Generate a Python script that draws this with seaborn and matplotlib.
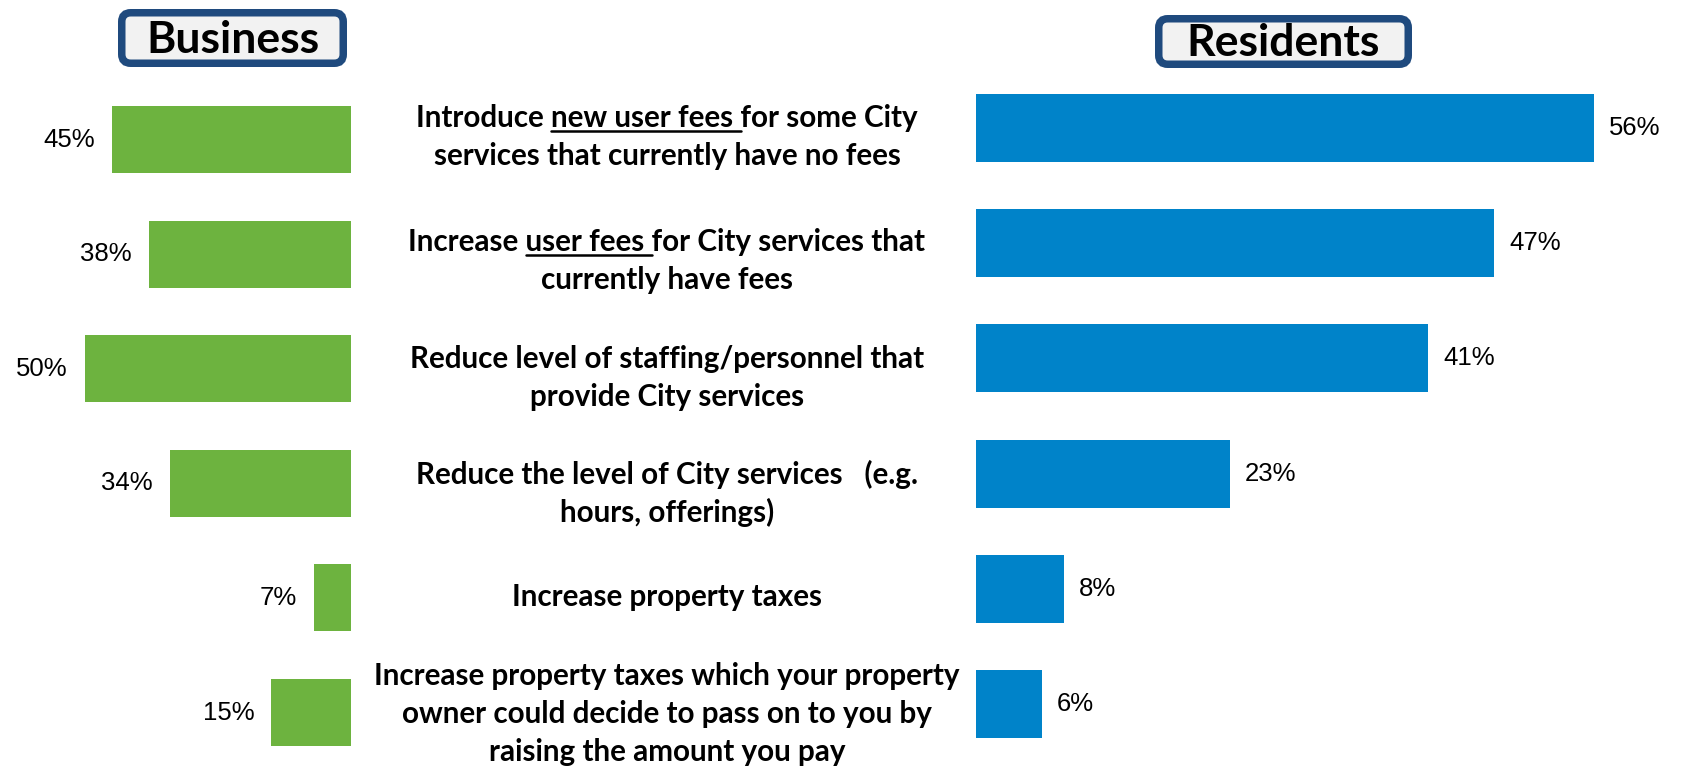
import matplotlib
matplotlib.use("Agg")
import matplotlib.pyplot as plt
from matplotlib.patches import FancyBboxPatch
from matplotlib.lines import Line2D
from matplotlib.transforms import IdentityTransform
import pandas as pd
import seaborn as sns

# ---- data ---------------------------------------------------------------
measures = [
    "Introduce new user fees for some City\nservices that currently have no fees",
    "Increase user fees for City services that\ncurrently have fees",
    "Reduce level of staffing/personnel that\nprovide City services",
    "Reduce the level of City services   (e.g.\nhours, offerings)",
    "Increase property taxes",
    "Increase property taxes which your property\nowner could decide to pass on to you by\nraising the amount you pay",
]
underlined = ["new user fees ", "user fees ", None, None, None, None]
business_pct = [45, 38, 50, 34, 7, 15]
resident_pct = [56, 47, 41, 23, 8, 6]
panel_titles = ["Business", "Residents"]

# ---- styling / layout ---------------------------------------------------
W, H, DPI = 1685, 770, 100
GREEN = "#6DB33F"
BLUE = "#0083C9"
NAVY = "#1F4A7E"
BOX_FACE = "#F2F2F2"
LABEL_FONT = ["Lato", "DejaVu Sans"]
PCT_FONT = ["Liberation Sans", "DejaVu Sans"]
LABEL_SIZE = 21.3
LINE_STEP = 38          # px between lines of a measure label
PCT_SIZE = 18.5
TITLE_SIZE = 32
# vertical centre (px from top) of each text block in the middle column
LABEL_CENTERS = [135, 259, 376, 492, 595, 712]

sns.set_theme(style="white")
plt.rcParams["font.family"] = LABEL_FONT

fig = plt.figure(figsize=(W / DPI, H / DPI), dpi=DPI)
px = IdentityTransform()


def fig_rect(left, top, width, height):
    """Axes rectangle given in pixels measured from the top-left corner."""
    return [left / W, 1 - (top + height) / H, width / W, height / H]


df = pd.DataFrame({"measure": measures,
                   "business": business_pct,
                   "residents": resident_pct})

# ---- business panel (bars grow leftwards) -------------------------------
ax_b = fig.add_axes(fig_rect(0, 82.2, 351, 687.6))
sns.barplot(data=df, x="business", y="measure", orient="h", color=GREEN,
            saturation=1, width=0.585, errorbar=None, linewidth=0, ax=ax_b)
ax_b.set_xlim(351 / 5.32, 0)
ax_b.set_ylim(5.5, -0.5)
ax_b.axis("off")
for i, v in enumerate(business_pct):
    ax_b.annotate(f"{v}%", xy=(v, i), xytext=(-17, 0),
                  textcoords="offset pixels", ha="right", va="center",
                  fontsize=PCT_SIZE, family=PCT_FONT, color="black")

# ---- residents panel ------------------------------------------------------
ax_r = fig.add_axes(fig_rect(976, 70.4, 709, 691.2))
sns.barplot(data=df, x="residents", y="measure", orient="h", color=BLUE,
            saturation=1, width=0.59, errorbar=None, linewidth=0, ax=ax_r)
ax_r.set_xlim(0, 709 / 11.03)
ax_r.set_ylim(5.5, -0.5)
ax_r.axis("off")
for i, v in enumerate(resident_pct):
    ax_r.annotate(f"{v}%", xy=(v, i), xytext=(15, 0),
                  textcoords="offset pixels", ha="left", va="center",
                  fontsize=PCT_SIZE, family=PCT_FONT, color="black")

# ---- measure labels in the middle column --------------------------------
renderer = fig.canvas.get_renderer()
label_kw = dict(fontsize=LABEL_SIZE, fontweight="bold", color="black",
                family=LABEL_FONT, transform=px)
cap_px = 0.72 * LABEL_SIZE * DPI / 72
center_x = 667


def advance_width(s):
    a = fig.text(0, 0, s + "|", **label_kw)
    b = fig.text(0, 0, "|", **label_kw)
    w = (a.get_window_extent(renderer).width
         - b.get_window_extent(renderer).width)
    a.remove()
    b.remove()
    return w


for text, phrase, top_y in zip(measures, underlined, LABEL_CENTERS):
    yc = H - top_y
    lines = text.split("\n")
    n = len(lines)
    for j, line in enumerate(lines):
        base = yc + ((n - 1) / 2 - j) * LINE_STEP - cap_px / 2
        t = fig.text(center_x, base, line, ha="center", va="baseline",
                     **label_kw)
        if phrase and phrase in line:
            x0 = t.get_window_extent(renderer).x0
            start = x0 + advance_width(line[:line.index(phrase)])
            end = start + advance_width(phrase)
            fig.add_artist(Line2D([start, end], [base - 4, base - 4],
                                  color="black", linewidth=1.8,
                                  transform=px))

# ---- panel header boxes ---------------------------------------------------
headers = [
    # (left, top, right, bottom) outer edge in px from top-left
    (118, 9, 347, 67),
    (1155, 15, 1412, 68),
]
border = 7.5
for title, (l, t, r, b) in zip(panel_titles, headers):
    inset = border / 2
    box = FancyBboxPatch((l + inset, H - b + inset),
                         (r - l) - border, (b - t) - border,
                         boxstyle="round,pad=0,rounding_size=9",
                         facecolor=BOX_FACE, edgecolor=NAVY,
                         linewidth=border * 72 / DPI, transform=px)
    fig.add_artist(box)
    fig.text((l + r) / 2, H - (t + b) / 2 - 15, title, ha="center",
             va="baseline", fontsize=TITLE_SIZE, fontweight="bold",
             color="black", family=LABEL_FONT, transform=px)

fig.savefig("out.png", dpi=DPI)
